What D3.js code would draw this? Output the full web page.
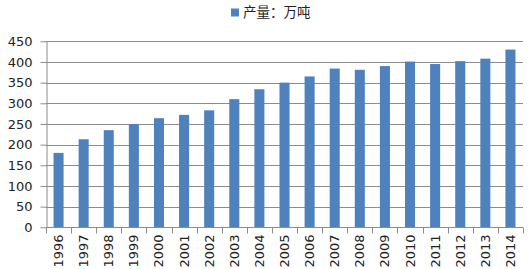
<!DOCTYPE html>
<html><head><meta charset="utf-8">
<script src="https://cdn.jsdelivr.net/npm/d3@7/dist/d3.min.js"></script>
<style>body{margin:0;background:#fff}svg{display:block}</style>
</head><body>
<script>
const categories = ["1996","1997","1998","1999","2000","2001","2002","2003","2004","2005","2006","2007","2008","2009","2010","2011","2012","2013","2014"];
const values = [180,213,235,250,264,272,283,310,334,350,365,384,381,390,401,395,402,408,430];
const yTicks = [0,50,100,150,200,250,300,350,400,450];
const seriesName = "产量：万吨";

const W = 532, H = 269;
const margin = {left: 46, right: 9, top: 41.3, bottom: 41.7};
const svg = d3.select("body").append("svg").attr("width", W).attr("height", H);
const x = d3.scaleBand().domain(categories).range([margin.left, W - margin.right]).paddingInner(0.6).paddingOuter(0.3);
const y = d3.scaleLinear().domain([0, 450]).range([H - margin.bottom, margin.top]);
const font = "'DejaVu Sans', sans-serif";
const gridColor = "#8c8c8c";

// grid
svg.append("g").selectAll("line").data(yTicks.filter(d => d > 0)).join("line")
  .attr("x1", margin.left).attr("x2", W - margin.right)
  .attr("y1", d => Math.round(y(d)) + 0.5).attr("y2", d => Math.round(y(d)) + 0.5)
  .attr("stroke", gridColor).attr("stroke-width", 1);

// bars
svg.append("g").selectAll("rect").data(values).join("rect")
  .attr("x", (d, i) => x(categories[i]))
  .attr("width", x.bandwidth())
  .attr("y", d => y(d))
  .attr("height", d => y(0) - y(d))
  .attr("fill", "#4F81BD");

// y axis
const yAxis = svg.append("g").attr("transform", `translate(${margin.left + 0.5},0)`)
  .call(d3.axisLeft(y).tickValues(yTicks).tickSize(6).tickSizeOuter(0).tickPadding(8));
yAxis.select(".domain").attr("stroke", gridColor);
yAxis.selectAll(".tick line").attr("stroke", gridColor);
yAxis.selectAll("text").attr("font-family", font).attr("font-size", 13).attr("fill", "#222");

// x axis with boundary ticks
const xAxisG = svg.append("g").attr("transform", `translate(0,${Math.round(y(0)) + 0.5})`);
xAxisG.append("line").attr("x1", margin.left).attr("x2", W - margin.right).attr("stroke", gridColor);
const step = x.step();
const bounds = d3.range(categories.length + 1).map(i => margin.left + i * (W - margin.left - margin.right) / categories.length);
xAxisG.selectAll("line.tk").data(bounds).join("line").attr("class", "tk")
  .attr("x1", d => Math.round(d) + 0.5).attr("x2", d => Math.round(d) + 0.5)
  .attr("y1", 0).attr("y2", 6).attr("stroke", gridColor);
xAxisG.selectAll("text").data(categories).join("text")
  .attr("transform", d => `translate(${x(d) + x.bandwidth() / 2 + 4.5},7) rotate(-90)`)
  .attr("text-anchor", "end")
  .attr("font-family", font).attr("font-size", 13).attr("fill", "#222")
  .text(d => d);

// legend
const lg = svg.append("g");
lg.append("rect").attr("x", 231).attr("y", 8.5).attr("width", 8).attr("height", 8).attr("fill", "#4F81BD");
lg.append("text").attr("x", 243).attr("y", 16.5).attr("font-family", "'Noto Sans CJK SC', sans-serif")
  .attr("font-size", 13.5).attr("fill", "#222").text(seriesName);
</script>
</body></html>
